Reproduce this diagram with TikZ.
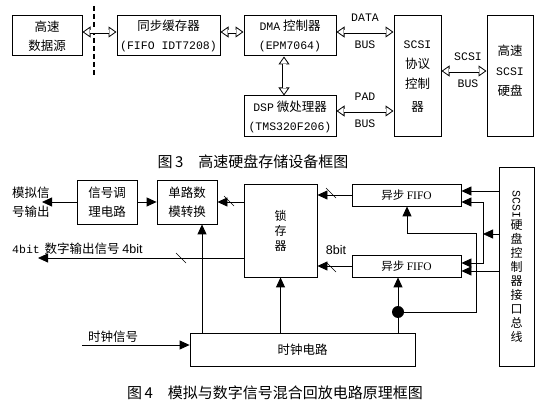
\documentclass[tikz,border=0pt]{standalone}
\usepackage{fontspec}
\usepackage{graphicx}
\setmainfont{Noto Sans CJK SC}
\setmonofont{Liberation Mono}
\newfontfamily\serifab{Liberation Serif}
\newfontfamily\sansab{Liberation Sans}
\usetikzlibrary{arrows.meta}
\newcommand{\ascii}[1]{{\ttfamily\fontsize{11.5}{13}\selectfont #1}}

\begin{document}
\begin{tikzpicture}[x=1pt,y=-1pt,font=\fontsize{12.5}{19}\selectfont]
\tikzstyle{blk}=[rectangle,draw,line width=1pt,inner sep=0pt,align=center]
\tikzstyle{box}=[rectangle,draw,line width=0.8pt,inner sep=0pt,align=center]
\tikzstyle{dbl}=[line width=0.8pt,{Triangle[open,length=8pt,width=11pt]}-{Triangle[open,length=8pt,width=11pt]},
  postaction={draw,-,double,double distance=3pt,shorten <=7.6pt,shorten >=7.6pt}]
\tikzstyle{tri}=[line width=0.8pt,-{Triangle[length=10pt,width=9pt]}]
\tikzstyle{captxt}=[font=\fontsize{15}{18}\selectfont]

\useasboundingbox (0,0) rectangle (546,403);

% figure 3
\draw[line width=1.2pt,dash pattern=on 5pt off 3pt] (94,6) -- (94,76);

\node[blk,minimum width=70pt,minimum height=40pt] (src) at (47,36) {高速\\数据源};
\node[blk,minimum width=103pt,minimum height=40pt] (sync) at (168.5,36) {同步缓存器\\\ascii{(FIFO IDT7208)}};
\node[blk,minimum width=92pt,minimum height=40pt] (dma) at (290,36) {\ascii{DMA} 控制器\\\ascii{(EPM7064)}};
\node[blk,minimum width=92pt,minimum height=41pt] (dsp) at (290,116.5) {\ascii{DSP} 微处理器\\\ascii{(TMS320F206)}};
\node[blk,minimum width=47pt,minimum height=121pt,font=\fontsize{12.5}{20}\selectfont] (ctrl) at (417.5,76.5) {\ascii{SCSI}\\协议\\控制\\[3pt]器};
\node[blk,minimum width=46pt,minimum height=121pt,font=\fontsize{12.5}{20}\selectfont] (disk) at (510,76.5) {高速\\\ascii{SCSI}\\硬盘\\[-7pt]};

\draw[dbl] (src.east |- 0,32) -- (sync.west |- 0,32);
\draw[dbl] (sync.east |- 0,32) -- (dma.west |- 0,32);
\draw[dbl] (dma.east |- 0,32) -- (ctrl.west |- 0,32)
  node[midway,above=7pt] {\ascii{DATA}} node[midway,below=5pt] {\ascii{BUS}};
\draw[dbl] (dsp.east |- 0,111) -- (ctrl.west |- 0,111)
  node[midway,above=7pt] {\ascii{PAD}} node[midway,below=5pt] {\ascii{BUS}};
\draw[dbl] (ctrl.east |- 0,71) -- (disk.west |- 0,71)
  node[midway,above=7pt,xshift=4pt] {\ascii{SCSI}} node[midway,below=5pt,xshift=4pt] {\ascii{BUS}};
\draw[dbl] (dma.south -| 284,0) -- (dsp.north -| 284,0);

\node[captxt] (cap3) at (253,162) {图\,3\quad 高速硬盘存储设备框图};

% figure 4
\node[align=left,anchor=west,inner sep=0pt] (aout) at (12,202) {模拟信\\号输出};
\node[box,minimum width=60pt,minimum height=44pt] (cond) at (107,202) {信号调\\理电路};
\node[box,minimum width=60pt,minimum height=44pt] (dac) at (187,202) {单路数\\模转换};
\node[box,minimum width=73pt,minimum height=93pt,font=\fontsize{12}{15}\selectfont] (latch) at (280.5,230.5) {锁\\存\\器};
\node[box,minimum width=109pt,minimum height=22pt,font=\fontsize{11.5}{14}\selectfont] (fifoA) at (406.5,195) {异步 {\serifab FIFO}};
\node[box,minimum width=109pt,minimum height=22pt,font=\fontsize{11.5}{14}\selectfont] (fifoB) at (406.5,266) {异步 {\serifab FIFO}};
\node[box,minimum width=225pt,minimum height=33pt] (clk) at (302.5,349.5) {时钟电路};
\node[box,minimum width=35pt,minimum height=199pt,font=\fontsize{12}{14}\selectfont] (bus) at (516.5,266.5)
  {\rotatebox{-90}{\ascii{SCSI}}\\硬\\盘\\控\\制\\器\\接\\口\\总\\线};

\node[anchor=west,inner sep=0pt] (dout) at (12,249) {\ascii{4bit}\, 数字输出信号 {\sansab 4bit}};
\node (clkin) at (113,337) {时钟信号};
\node (bits8) at (336,250) {\sansab 8bit};
\node[circle,fill,inner sep=0pt,minimum size=12pt] (dot) at (398,312) {};

\coordinate (aoutTip) at (42,202);
\coordinate (doutTip) at (38,258);
\coordinate (clkTail) at (82,345);
\coordinate (split) at (483,234);

\draw[tri] (cond) -- (aoutTip);
\draw[tri] (cond) -- (dac);
\draw[tri] (latch.west |- dac.east) -- (dac.east);
\draw[line width=0.6pt] (224,196) -- (234,206);
\draw[tri] (latch.west |- doutTip) -- (doutTip);
\draw[line width=0.6pt] (176,253) -- (186,263);
\draw[tri] (fifoA.west) -- (latch.east |- fifoA.west);
\draw[line width=0.6pt] (326,188) -- (336,198);
\draw[tri] (fifoB.west) -- (latch.east |- fifoB.west);
\draw[line width=0.6pt] (326,262) -- (336,272);

\draw[tri] (clkTail) -- (clk.west |- clkTail);
\draw[tri] (clk.north -| 202,0) -- (dac.south -| 202,0);
\draw[tri] (clk.north -| latch.south) -- (latch.south);
\draw[tri] (clk.north -| dot) -- (fifoB.south -| dot);
\draw[tri] (dot) -| (476,233) -| (fifoA.south -| 407,0);

\draw[tri] (bus.west |- 0,191) -- (fifoA.east |- 0,191);
\draw[tri] (bus.west |- split) -- (split);
\draw[tri] (split) |- (fifoA.east |- 0,202);
\draw[tri] (split) |- (fifoB.east |- 0,263);
\draw[tri] (bus.west |- 0,271) -- (fifoB.east |- 0,271);

\node[captxt] (cap4) at (275,393) {图\,4\quad 模拟与数字信号混合回放电路原理框图};
\end{tikzpicture}
\end{document}
